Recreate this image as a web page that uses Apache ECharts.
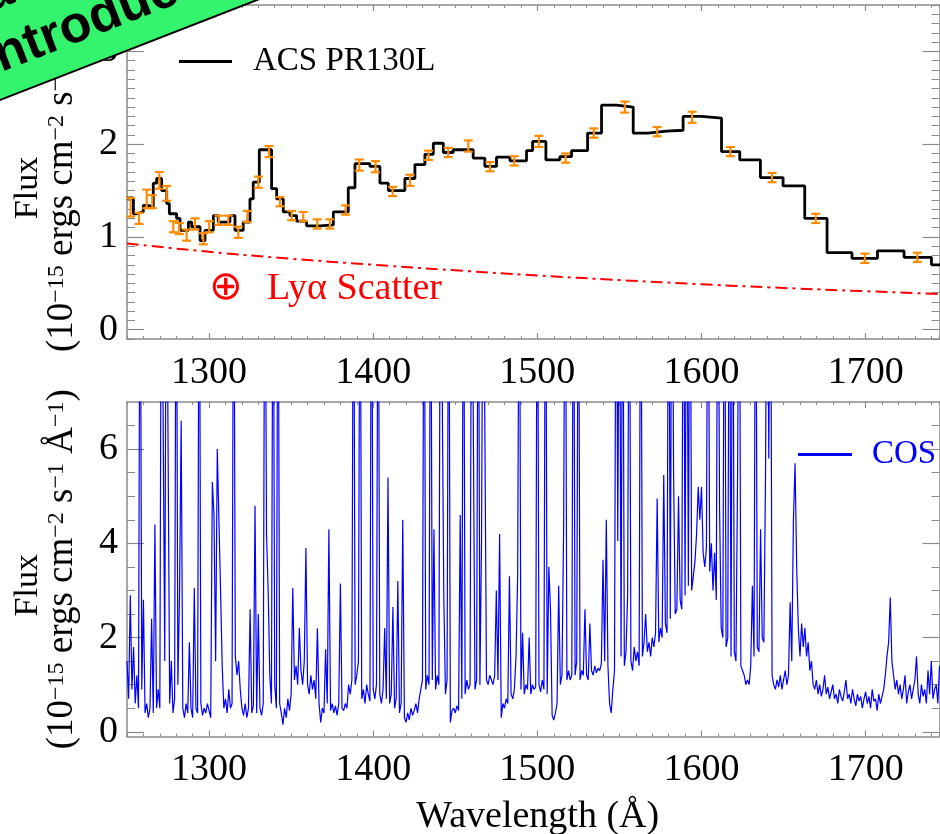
<!DOCTYPE html>
<html><head><meta charset="utf-8">
<script src="https://cdn.jsdelivr.net/npm/echarts@6/dist/echarts.min.js"></script>
<style>html,body{margin:0;padding:0;background:#fff}#c{width:940px;height:834px}</style>
</head><body><div id="c"></div>
<script>
// ---------- data ----------
const xTickValues = [1300, 1400, 1500, 1600, 1700];
const yTickTop = [0, 1, 2, 3];
const yTickBottom = [0, 2, 4, 6];
const yMinorBottom = [0.5, 1, 1.5, 2.5, 3, 3.5, 4.5, 5, 5.5, 6.5];

// ACS PR130L binned spectrum: bin left edges (last entry = right edge of final bin) and flux
const acsEdges = [1250.0, 1253.9, 1255.9, 1259.9, 1263.0, 1266.0, 1268.1, 1271.1, 1274.2, 1275.8,
  1280.2, 1282.3, 1287.4, 1289.4, 1294.5, 1297.5, 1302.6, 1305.6, 1312.7, 1315.8,
  1320.8, 1324.9, 1326.9, 1330.6, 1338.1, 1341.2, 1345.2, 1349.3, 1353.3, 1359.4,
  1367.5, 1375.7, 1384.8, 1388.9, 1398.0, 1404.1, 1409.2, 1419.3, 1425.4, 1431.5,
  1436.6, 1442.7, 1448.7, 1460.9, 1468.0, 1475.1, 1483.3, 1493.4, 1497.1, 1505.2,
  1513.7, 1520.8, 1530.6, 1539.1, 1548.2, 1558.4, 1567.5, 1578.7, 1588.8, 1600.0,
  1612.2, 1623.3, 1635.9, 1649.7, 1662.9, 1676.5, 1691.7, 1707.2, 1723.4, 1740.1, 1770.0];
const acsFlux = [1.42, 1.25, 1.27, 1.34, 1.32, 1.58, 1.63, 1.50, 1.36, 1.25,
  1.20, 1.07, 1.16, 1.11, 0.96, 1.07, 1.23, 1.16, 1.23, 1.07,
  1.16, 1.41, 1.59, 1.94, 1.52, 1.41, 1.27, 1.23, 1.17, 1.12,
  1.13, 1.27, 1.53, 1.79, 1.76, 1.58, 1.50, 1.63, 1.78, 1.89,
  2.01, 1.91, 1.94, 1.85, 1.76, 1.86, 1.82, 1.93, 2.03, 1.83,
  1.865, 1.93, 2.12, 2.42, 2.40, 2.12, 2.14, 2.15, 2.30, 2.28,
  1.92, 1.83, 1.64, 1.55, 1.20, 0.83, 0.77, 0.85, 0.78, 0.70];

// ACS error bars
const errWave = [1252.2, 1257.3, 1262.0, 1265.4, 1269.7, 1274.2, 1278.2, 1281.9, 1286.3, 1291.4,
  1296.5, 1300.1, 1306.0, 1311.7, 1317.8, 1323.3, 1330.0, 1336.5, 1343.2, 1350.3,
  1357.4, 1365.9, 1373.6, 1383.2, 1391.5, 1401.4, 1411.8, 1422.4, 1433.7, 1445.7,
  1457.9, 1471.1, 1485.9, 1500.9, 1517.2, 1534.4, 1553.3, 1573.0, 1594.3, 1617.6,
  1643.0, 1669.6, 1699.5, 1731.5];
const errFlux = [1.32, 1.20, 1.41, 1.38, 1.61, 1.47, 1.11, 1.09, 1.02, 1.14,
  0.98, 1.11, 1.18, 1.18, 1.05, 1.22, 1.59, 1.92, 1.38, 1.23,
  1.22, 1.14, 1.14, 1.29, 1.775, 1.757, 1.49, 1.61, 1.88, 1.91,
  1.98, 1.757, 1.82, 2.03, 1.85, 2.12, 2.40, 2.135, 2.29, 1.92,
  1.64, 1.20, 0.77, 0.78];
const errSize = [0.10, 0.06, 0.10, 0.07, 0.09, 0.08, 0.06, 0.06, 0.06, 0.06,
  0.06, 0.06, 0.05, 0.05, 0.06, 0.06, 0.06, 0.06, 0.05, 0.05,
  0.05, 0.05, 0.05, 0.05, 0.06, 0.06, 0.05, 0.06, 0.05, 0.05,
  0.06, 0.05, 0.05, 0.06, 0.05, 0.05, 0.06, 0.05, 0.06, 0.05,
  0.05, 0.05, 0.05, 0.05];

// Geocoronal Ly-alpha scatter estimate
const lyaWave = [1250, 1300, 1350, 1400, 1450, 1500, 1550, 1600, 1650, 1700, 1750];
const lyaFlux = [0.93, 0.84, 0.765, 0.70, 0.64, 0.585, 0.535, 0.49, 0.45, 0.415, 0.382];

// COS spectrum on a 1 Å grid starting at 1250 Å (values above 7 run off the panel)
const cosStart = 1250;
const cosStep = 1;
const cosFlux = [
  1.5, 0.7, 2.9, 0.9, 1.8, 0.6, 1.2, 0.5, 12, 0.9,
  2.8, 0.4, 0.6, 0.3, 0.5, 2.4, 0.4, 4.4, 0.5, 0.9,
  0.5, 12, 12, 1.5, 12, 6.2, 0.6, 1.5, 0.4, 0.7,
  12, 1.0, 2.9, 6.6, 0.5, 0.3, 0.6, 0.4, 1.9, 0.5,
  0.3, 3.05, 0.5, 0.4, 12, 0.6, 0.35, 0.5, 0.4, 0.6,
  0.45, 0.3, 5.3, 4.6, 1.5, 6.0, 4.5, 3.0, 1.4, 0.5,
  0.7, 0.4, 0.9, 0.5, 0.6, 12, 1.6, 1.2, 1.5, 0.9,
  0.5, 0.35, 0.6, 0.3, 0.5, 2.6, 0.4, 0.55, 4.8, 0.4,
  2.5, 0.5, 0.35, 0.6, 12, 4.2, 3.0, 1.2, 0.6, 12,
  1.0, 0.5, 12, 0.6, 0.4, 0.15, 0.5, 0.3, 0.7, 0.45,
  0.8, 3.05, 1.1, 1.4, 1.0, 2.2, 1.3, 1.0, 1.5, 3.9,
  1.0, 0.8, 1.2, 0.9, 1.1, 0.7, 2.2, 0.6, 0.2, 0.5,
  0.4, 1.75, 0.6, 4.3, 0.45, 0.6, 0.4, 0.55, 0.35, 0.6,
  3.15, 0.5, 0.45, 0.6, 0.5, 1.0, 0.8, 1.1, 12, 1.0,
  1.2, 1.5, 12, 0.7, 0.9, 0.6, 1.0, 0.8, 0.65, 12,
  0.9, 0.7, 1.0, 12, 0.8, 0.6, 0.9, 2.2, 0.7, 5.4,
  0.6, 0.8, 2.65, 0.5, 0.7, 3.2, 0.4, 0.6, 4.5, 0.3,
  0.2, 0.4, 0.25, 0.5, 0.35, 0.45, 0.6, 0.4, 0.7, 0.9,
  1.1, 12, 0.9, 1.2, 1.0, 12, 1.1, 4.3, 0.9, 1.2,
  1.0, 12, 12, 2.9, 0.8, 1.1, 12, 0.2, 0.45, 0.5,
  0.4, 0.55, 0.45, 4.6, 0.7, 12, 0.8, 1.1, 0.9, 1.0,
  12, 12, 0.9, 1.1, 12, 1.0, 4.1, 12, 12, 1.1,
  1.0, 1.2, 1.1, 1.0, 1.2, 3.0, 1.1, 4.2, 0.3, 0.6,
  0.5, 0.7, 0.6, 3.3, 0.8, 0.7, 0.9, 1.6, 3.3, 12,
  0.9, 2.1, 0.8, 1.0, 0.9, 2.0, 0.8, 1.0, 0.9, 0.95,
  12, 1.0, 0.85, 1.1, 0.9, 12, 0.8, 3.5, 2.6, 0.35,
  0.25, 0.4, 0.6, 3.1, 1.0, 1.2, 4.3, 12, 1.1, 1.3,
  1.1, 1.2, 12, 1.2, 1.5, 12, 1.1, 1.3, 1.2, 2.6,
  1.2, 1.1, 2.3, 1.3, 1.2, 1.4, 1.25, 1.35, 1.3, 1.45,
  3.65, 1.5, 4.5, 1.4, 0.6, 0.4, 0.9, 1.3, 12, 4.05,
  12, 1.6, 12, 1.4, 1.7, 2.9, 12, 1.5, 1.3, 1.8,
  1.5, 1.7, 1.4, 12, 1.6, 1.9, 2.5, 1.7, 1.9, 1.6,
  2.0, 1.8, 2.1, 4.95, 1.9, 2.2, 2.0, 5.45, 2.3, 2.1,
  12, 2.4, 12, 5.5, 2.5, 2.6, 5.0, 2.8, 2.6, 12,
  2.9, 12, 3.1, 12, 3.0, 3.3, 3.6, 4.2, 5.2, 4.5,
  5.2, 3.8, 3.5, 3.9, 12, 3.4, 4.0, 3.0, 3.8, 2.8,
  12, 4.8, 2.2, 2.0, 12, 1.8, 2.0, 12, 1.6, 12,
  1.7, 1.5, 5.55, 12, 1.4, 1.3, 1.2, 1.0, 1.1, 1.0,
  1.4, 3.1, 1.6, 12, 1.8, 1.7, 4.3, 2.0, 1.9, 5.4,
  12, 5.8, 12, 1.2, 1.0, 0.9, 1.1, 0.95, 1.2, 0.9,
  1.1, 1.3, 1.0, 1.2, 2.75, 1.5, 4.5, 5.7, 3.5, 2.2,
  1.6, 2.3, 1.8, 2.2, 1.6, 1.9, 1.3, 1.5, 1.0, 0.9,
  1.1, 0.8, 1.0, 0.75, 0.9, 1.2, 0.8, 0.95, 0.7, 0.85,
  1.0, 0.7, 0.8, 0.6, 0.9, 0.75, 0.65, 0.85, 1.1, 0.7,
  0.8, 0.6, 0.9, 0.7, 0.55, 0.8, 0.65, 0.75, 0.5, 0.7,
  0.85, 0.6, 0.75, 0.5, 0.9, 0.65, 0.7, 0.45, 0.8, 0.6,
  0.75, 0.9, 1.2, 1.6, 1.9, 2.85, 1.5, 1.2, 0.9, 1.1,
  0.8, 1.0, 0.7, 0.9, 1.2, 0.6, 0.85, 1.0, 0.7, 0.9,
  1.1, 1.6, 0.8, 0.6, 1.0, 0.75, 0.9, 0.6, 1.3, 0.8,
  1.5, 0.7, 0.9, 1.0, 0.6, 1.4];

// ---------- chart ----------
const FONT = '"Liberation Serif", "Times New Roman", serif';
const GRAY = '#8a8a8a';
const X_MIN = 1250, X_MAX = 1745;
const plain = v => String(v);

function xAxesFor(g, withName) {
  const base = { gridIndex: g, type: 'value', min: X_MIN, max: X_MAX, splitLine: { show: false } };
  const line = { show: true, onZero: false, lineStyle: { color: GRAY, width: 1.5 } };
  const noLine = { show: false, onZero: false };
  return [
    Object.assign({}, base, { position: 'bottom', interval: 10, axisLine: line,
      axisTick: { inside: true, length: 3, lineStyle: { color: GRAY, width: 1 } }, axisLabel: { show: false } }),
    Object.assign({}, base, { position: 'bottom', axisLine: noLine,
      axisTick: { inside: true, length: 6, customValues: xTickValues, lineStyle: { color: GRAY, width: 1.2 } },
      axisLabel: { show: true, customValues: xTickValues, formatter: plain, margin: 15, fontFamily: FONT, fontSize: 38, color: '#000' },
      name: withName ? 'Wavelength (Å)' : '', nameLocation: 'middle', nameGap: 62,
      nameTextStyle: { fontFamily: FONT, fontSize: 38, color: '#000', padding: [0, 0, 0, 9] } }),
    Object.assign({}, base, { position: 'top', interval: 10, axisLine: line,
      axisTick: { inside: true, length: 3, lineStyle: { color: GRAY, width: 1 } }, axisLabel: { show: false } }),
    Object.assign({}, base, { position: 'top', axisLine: noLine,
      axisTick: { inside: true, length: 6, customValues: xTickValues, lineStyle: { color: GRAY, width: 1.2 } },
      axisLabel: { show: false } })
  ];
}

const yName = '{a|Flux}\n{b|(10}{s|−15}{b| ergs cm}{s|−2}{b| s}{s|−1}{b| Å}{s|−1}{b|)}';
const yNameStyle = {
  fontFamily: FONT, color: '#000',
  rich: {
    a: { fontFamily: FONT, fontSize: 34, lineHeight: 34, color: '#000', padding: [0, 32, 0, 0] },
    b: { fontFamily: FONT, fontSize: 37, lineHeight: 34, color: '#000' },
    s: { fontFamily: FONT, fontSize: 24, lineHeight: 14, verticalAlign: 'top', color: '#000' }
  }
};

function yAxesFor(g, min, max, minorOpt, major) {
  const base = { gridIndex: g, type: 'value', min: min, max: max, splitLine: { show: false } };
  const line = { show: true, onZero: false, lineStyle: { color: GRAY, width: 1.5 } };
  const noLine = { show: false, onZero: false };
  const minorTick = Object.assign({ inside: true, length: 8, lineStyle: { color: GRAY, width: 1 } }, minorOpt.tick || {});
  const majorTick = { inside: true, length: 17, customValues: major, lineStyle: { color: GRAY, width: 1.2 } };
  return [
    Object.assign({}, base, { position: 'left', axisLine: line, axisTick: minorTick, axisLabel: { show: false } }, minorOpt.axis || {}),
    Object.assign({}, base, { position: 'left', axisLine: noLine, axisTick: majorTick,
      axisLabel: { show: true, customValues: major, formatter: plain, margin: 9, fontFamily: FONT, fontSize: 38, color: '#000' },
      name: yName, nameLocation: 'middle', nameRotate: 90, nameGap: 48, nameTextStyle: yNameStyle }),
    Object.assign({}, base, { position: 'right', axisLine: line, axisTick: minorTick, axisLabel: { show: false } }, minorOpt.axis || {}),
    Object.assign({}, base, { position: 'right', axisLine: noLine, axisTick: majorTick, axisLabel: { show: false } })
  ];
}

const acsData = acsEdges.map((w, i) => [w, acsFlux[Math.min(i, acsFlux.length - 1)]]);
const errData = errWave.map((w, i) => [w, errFlux[i], errSize[i]]);
const lyaData = lyaWave.map((w, i) => [w, lyaFlux[i]]);
const cosData = cosFlux.map((v, i) => [cosStart + i * cosStep, v]);

const option = {
  animation: false,
  backgroundColor: '#fff',
  grid: [
    { left: 127, top: 5, width: 812.5, height: 334, outerBoundsMode: 'none' },
    { left: 127, top: 402, width: 812.5, height: 334.5, outerBoundsMode: 'none' }
  ],
  xAxis: xAxesFor(0, false).concat(xAxesFor(1, true)),
  yAxis: yAxesFor(0, -0.1, 3.5, { axis: { interval: 0.1 } }, yTickTop)
    .concat(yAxesFor(1, -0.1, 7, { tick: { customValues: yMinorBottom } }, yTickBottom)),
  legend: [
    { data: ['ACS PR130L'], left: 179, top: 45, padding: 0, itemWidth: 53, itemHeight: 3, icon: 'rect',
      selectedMode: false, textStyle: { fontFamily: FONT, fontSize: 33, color: '#000', padding: [0, 0, 0, 16] } },
    { data: ['COS'], left: 798, top: 438, padding: 0, itemWidth: 54, itemHeight: 3, icon: 'rect',
      selectedMode: false, textStyle: { fontFamily: FONT, fontSize: 33, color: '#0000ff', padding: [0, 0, 0, 15] } }
  ],
  series: [
    { name: 'Lyα Scatter', type: 'line', xAxisIndex: 0, yAxisIndex: 0, data: lyaData, showSymbol: false, smooth: true,
      lineStyle: { color: '#ff0000', width: 2, type: [12, 5, 3, 5] }, itemStyle: { color: '#ff0000' }, z: 2 },
    { name: 'ACS PR130L', type: 'line', xAxisIndex: 0, yAxisIndex: 0, data: acsData, step: 'end', showSymbol: false,
      lineStyle: { color: '#000', width: 2.8 }, itemStyle: { color: '#000' }, z: 3 },
    { name: 'ACS error', type: 'custom', xAxisIndex: 0, yAxisIndex: 0, data: errData, z: 4,
      encode: { x: 0, y: 1 },
      renderItem: function (params, api) {
        const x = api.value(0), y = api.value(1), e = api.value(2);
        const top = api.coord([x, y + e]), bot = api.coord([x, y - e]);
        const hw = 4.5;
        const st = { stroke: '#ff8c00', lineWidth: 2.2, fill: null };
        return { type: 'group', children: [
          { type: 'line', shape: { x1: top[0], y1: top[1], x2: bot[0], y2: bot[1] }, style: st },
          { type: 'line', shape: { x1: top[0] - hw, y1: top[1], x2: top[0] + hw, y2: top[1] }, style: st },
          { type: 'line', shape: { x1: bot[0] - hw, y1: bot[1], x2: bot[0] + hw, y2: bot[1] }, style: st }
        ] };
      } },
    { name: 'COS', type: 'line', xAxisIndex: 4, yAxisIndex: 4, data: cosData, showSymbol: false, sampling: 'none',
      lineStyle: { color: '#0000ff', width: 1.2 }, itemStyle: { color: '#0000ff' }, z: 3 }
  ],
  graphic: [
    { type: 'text', x: 209, y: 289, z: 10, style: { text: '⊕', font: '40px "DejaVu Sans"', fill: '#ff0000', verticalAlign: 'middle' } },
    { type: 'text', x: 267, y: 289, z: 10, style: { text: 'Lyα Scatter', font: '38px "Liberation Serif"', fill: '#ff0000', verticalAlign: 'middle' } },
    { type: 'group', x: 128.5, y: 50, rotation: 0.371, z: 100, children: [
      { type: 'rect', z: 100, shape: { x: -400, y: -190, width: 800, height: 190 }, style: { fill: '#33f46c', stroke: '#000', lineWidth: 2 } },
      { type: 'text', z: 101, x: -200, y: -100, style: { text: 'Data', font: 'bold 52px "Liberation Sans", Arial, sans-serif', fill: '#000', verticalAlign: 'middle' } },
      { type: 'text', z: 101, x: -141, y: -40, style: { text: 'Introduction', font: 'bold 52px "Liberation Sans", Arial, sans-serif', fill: '#000', verticalAlign: 'middle' } }
    ] }
  ]
};

const chart = echarts.init(document.getElementById('c'), null, { renderer: 'canvas' });
chart.setOption(option);
</script></body></html>
